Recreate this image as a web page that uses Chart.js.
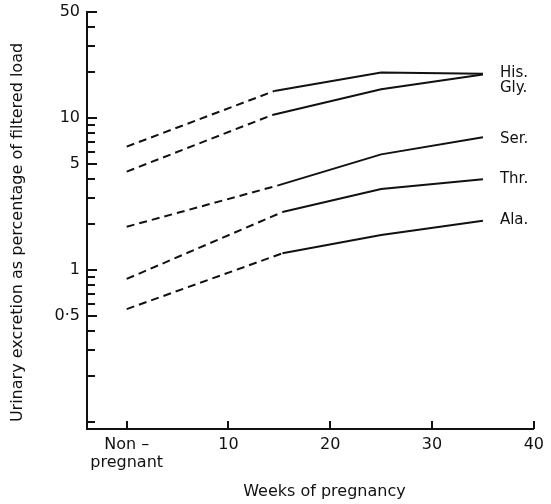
<!DOCTYPE html>
<html>
<head>
<meta charset="utf-8">
<script src="https://cdn.jsdelivr.net/npm/chart.js@4/dist/chart.umd.min.js"></script>
<style>
	html, body { margin: 0; padding: 0; background: #fff; }
	#wrap { width: 551px; height: 504px; }
</style>
</head>
<body>
<div id="wrap"><canvas id="chart"></canvas></div>
<script>
// amino acid excretion in pregnancy

const aminoNames = ['His.', 'Gly.', 'Ser.', 'Thr.', 'Ala.']

const weeksHis = [0, 14.5, 25, 35]
const weeksGly = [0, 14.3, 25, 35]
const weeksSer = [0, 14.8, 25, 35]
const weeksThr = [0, 15.3, 25, 35]
const weeksAla = [0, 15.3, 25, 35]

const valuesHis = [6.5, 15.1, 20.0, 19.6]
const valuesGly = [4.45, 10.5, 15.5, 19.4]
const valuesSer = [1.93, 3.6, 5.78, 7.5]
const valuesThr = [0.875, 2.41, 3.42, 3.96]
const valuesAla = [0.554, 1.29, 1.7, 2.11]

const yTicks      = [0.1, 0.2, 0.3, 0.4, 0.5, 0.6, 0.7, 0.8, 0.9, 1, 2, 3, 4, 5, 6, 7, 8, 9, 10, 20, 30, 40, 50]
const yTickLabels = { '0.5' : '0·5', '1' : '1', '5' : '5', '10' : '10', '50' : '50' }
const xTicks      = [0, 10, 20, 30, 40]
const xTickLabels = { '0' : ['Non –', 'pregnant'] }

const ink      = '#111'
const fontName = '"DejaVu Sans", sans-serif'

// label nudges so His./Gly. stack like the original
const labelNudge = [-1, 14, 2, 0, -1]

const seriesWeeks  = [weeksHis, weeksGly, weeksSer, weeksThr, weeksAla]
const seriesValues = [valuesHis, valuesGly, valuesSer, valuesThr, valuesAla]

const datasets = aminoNames.map((name, i) => ({
	label           : name,
	data            : seriesValues[i].map((v, j) => ({ x : seriesWeeks[i][j], y : v })),
	borderColor     : ink,
	borderWidth     : 2,
	pointRadius     : 0,
	tension         : 0,
	fill            : false,
	segment         : {
		borderDash : (ctx) => ctx.p0DataIndex === 0 ? [8, 5] : undefined,
	},
}))

const inkPlugin = {
	id : 'ink',
	afterDraw : (chart) => {
		const { ctx, chartArea, scales : { x, y } } = chart
		ctx.save()
		ctx.strokeStyle = ink
		ctx.lineWidth   = 2
		ctx.beginPath()
		for ( const v of yTicks ) {
			const py  = Math.round(y.getPixelForValue(v))
			const len = typeof yTickLabels[String(v)] !== 'undefined' ? 10 : 8
			ctx.moveTo(chartArea.left, py)
			ctx.lineTo(chartArea.left + len, py)
		}
		for ( const v of xTicks ) {
			const px = Math.round(x.getPixelForValue(v))
			ctx.moveTo(px, chartArea.bottom)
			ctx.lineTo(px, chartArea.bottom - 8)
		}
		ctx.stroke()

		ctx.fillStyle    = ink
		ctx.font         = `15px ${fontName}`
		ctx.textAlign    = 'left'
		ctx.textBaseline = 'middle'
		chart.data.datasets.forEach((ds, i) => {
			const last = chart.getDatasetMeta(i).data.at(-1)
			ctx.fillText(ds.label, last.x + 17, last.y + labelNudge[i])
		})

		ctx.font      = `16px ${fontName}`
		ctx.textAlign = 'center'
		ctx.fillText('Weeks of pregnancy', (chartArea.left + chartArea.right) / 2 + 14, 492)
		ctx.translate(18, (chartArea.top + chartArea.bottom) / 2 + 12)
		ctx.rotate(-Math.PI / 2)
		ctx.fillText('Urinary excretion as percentage of filtered load', 0, 0)
		ctx.restore()
	},
}

new Chart(document.getElementById('chart'), {
	type    : 'line',
	data    : { datasets : datasets },
	plugins : [inkPlugin],
	options : {
		responsive          : true,
		maintainAspectRatio : false,
		animation           : false,
		devicePixelRatio    : 1,
		layout              : { padding : { top : 12, right : 16, left : 0, bottom : 0 } },
		plugins             : {
			legend  : { display : false },
			tooltip : { enabled : false },
		},
		scales : {
			x : {
				type           : 'linear',
				min            : -3.9,
				max            : 40,
				afterBuildTicks : (scale) => { scale.ticks = xTicks.map((v) => ({ value : v })) },
				afterFit       : (scale) => { scale.height = 75 },
				grid           : { display : false, drawTicks : false },
				border         : { display : true, color : ink, width : 2 },
				ticks          : {
					autoSkip    : false,
					maxRotation : 0,
					padding     : 7,
					color       : ink,
					font        : { family : fontName, size : 16, lineHeight : 1.1 },
					callback    : (v) => typeof xTickLabels[String(v)] !== 'undefined' ? xTickLabels[String(v)] : String(v),
				},
			},
			y : {
				type           : 'logarithmic',
				min            : 0.09,
				max            : 50,
				afterBuildTicks : (scale) => { scale.ticks = yTicks.map((v) => ({ value : v })) },
				afterFit       : (scale) => {
					scale.width         = 87
					scale.paddingTop    = 0
					scale.paddingBottom = 0
				},
				grid           : { display : false, drawTicks : false },
				border         : { display : true, color : ink, width : 2 },
				ticks          : {
					autoSkip : false,
					padding  : 7,
					color    : ink,
					font     : { family : fontName, size : 16 },
					callback : (v) => typeof yTickLabels[String(v)] !== 'undefined' ? yTickLabels[String(v)] : '',
				},
			},
		},
	},
})
</script>
</body>
</html>
